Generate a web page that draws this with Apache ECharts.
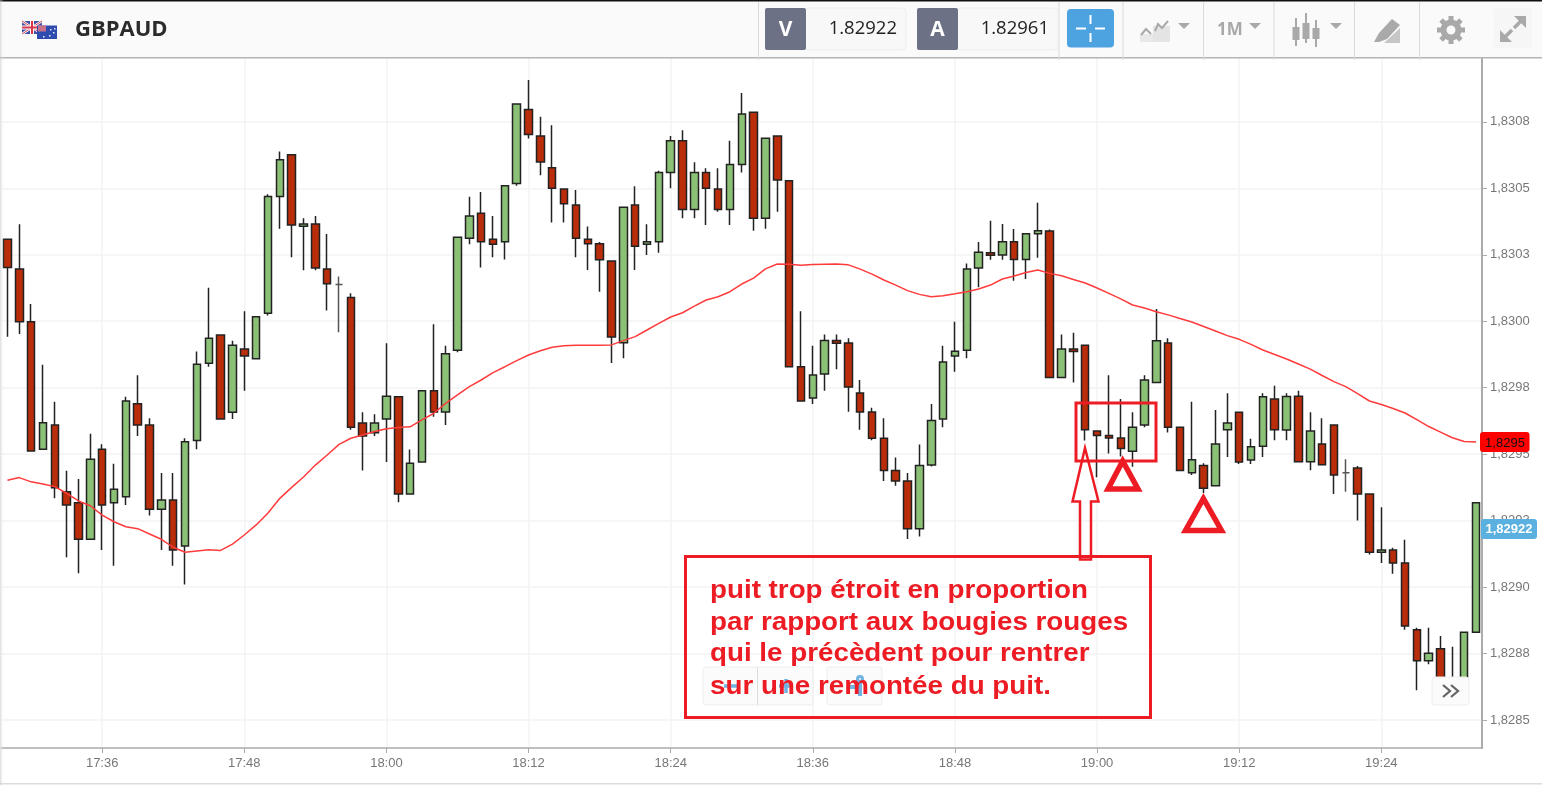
<!DOCTYPE html>
<html><head><meta charset="utf-8">
<style>html,body{margin:0;padding:0;background:#fff}#c{width:1542px;height:785px}</style>
<script src="https://cdn.jsdelivr.net/npm/echarts@6/dist/echarts.min.js"></script>
</head><body><div id="c"></div>
<script>
const opens=[1.830308,1.830196,1.829998,1.829519,1.829610,1.829359,1.829317,1.829180,1.829519,1.829317,
1.829340,1.829690,1.829610,1.829293,1.829328,1.829155,1.829551,1.829842,1.829948,1.829658,
1.829896,1.829859,1.830030,1.830469,1.830626,1.830357,1.830366,1.830196,1.830138,1.830089,
1.829617,1.829581,1.829632,1.829716,1.829350,1.829471,1.829739,1.829659,1.829891,1.830312,
1.830406,1.830308,1.830299,1.830518,1.830796,1.830697,1.830577,1.830497,1.830437,1.830308,
1.830291,1.830227,1.829919,1.830437,1.830290,1.830299,1.830559,1.830679,1.830420,1.830559,
1.830497,1.830420,1.830589,1.830786,1.830387,1.830697,1.830528,1.829829,1.829711,1.829802,
1.829928,1.829918,1.829730,1.829659,1.829560,1.829439,1.829399,1.829220,1.829459,1.829632,
1.829869,1.829891,1.830200,1.830258,1.830249,1.830299,1.830232,1.830329,1.830339,1.829788,
1.829896,1.829910,1.829587,1.829570,1.829561,1.829511,1.829610,1.829770,1.829918,1.829601,
1.829430,1.829457,1.829381,1.829592,1.829658,1.829478,1.829530,1.829708,1.829591,1.829718,
1.829472,1.829538,1.829610,1.829430,1.829448,1.829350,1.829131,1.829140,1.829091,1.828840,
1.828723,1.828768,1.828650,1.828650,1.828830];
const closes=[1.830202,1.829998,1.829512,1.829618,1.829374,1.829309,1.829180,1.829481,1.829309,1.829368,
1.829700,1.829610,1.829293,1.829328,1.829140,1.829547,1.829838,1.829936,1.829632,1.829910,
1.829869,1.830017,1.830469,1.830607,1.830362,1.830366,1.830200,1.830141,1.830138,1.829601,
1.829568,1.829617,1.829718,1.829350,1.829466,1.829739,1.829659,1.829878,1.830316,1.830396,
1.830299,1.830290,1.830510,1.830817,1.830702,1.830599,1.830500,1.830442,1.830312,1.830291,
1.830231,1.829941,1.830429,1.830282,1.830299,1.830559,1.830679,1.830420,1.830559,1.830500,
1.830420,1.830589,1.830779,1.830387,1.830688,1.830531,1.829829,1.829700,1.829798,1.829928,
1.829917,1.829753,1.829659,1.829560,1.829439,1.829399,1.829220,1.829457,1.829627,1.829847,
1.829887,1.830196,1.830259,1.830248,1.830299,1.830232,1.830329,1.830340,1.829788,1.829896,
1.829886,1.829592,1.829570,1.829561,1.829521,1.829601,1.829779,1.829927,1.829601,1.829439,
1.829479,1.829372,1.829538,1.829617,1.829471,1.829528,1.829716,1.829592,1.829717,1.829472,
1.829587,1.829460,1.829422,1.829430,1.829350,1.829131,1.829140,1.829091,1.828854,1.828723,
1.828751,1.828643,1.828628,1.828830,1.829317];
const lows=[1.829942,1.829952,1.829512,1.829519,1.829334,1.829112,1.829052,1.829180,1.829140,1.829080,
1.829309,1.829568,1.829269,1.829140,1.829080,1.829010,1.829519,1.829829,1.829632,1.829632,
1.829739,1.829859,1.830022,1.830348,1.830241,1.830192,1.830192,1.830040,1.829959,1.829592,
1.829439,1.829568,1.829471,1.829319,1.829350,1.829471,1.829641,1.829610,1.829883,1.830290,
1.830202,1.830241,1.830232,1.830510,1.830687,1.830549,1.830371,1.830371,1.830241,1.830193,
1.830111,1.829843,1.829861,1.830193,1.830249,1.830258,1.830500,1.830387,1.830387,1.830362,
1.830412,1.830362,1.830559,1.830340,1.830348,1.830412,1.829829,1.829700,1.829689,1.829739,
1.829819,1.829660,1.829592,1.829552,1.829399,1.829381,1.829181,1.829190,1.829454,1.829601,
1.829810,1.829861,1.830128,1.830231,1.830231,1.830152,1.830159,1.830239,1.829788,1.829788,
1.829770,1.829551,1.829413,1.829503,1.829491,1.829453,1.829601,1.829770,1.829582,1.829439,
1.829422,1.829354,1.829381,1.829489,1.829463,1.829463,1.829489,1.829552,1.829552,1.829472,
1.829440,1.829460,1.829350,1.829359,1.829251,1.829123,1.829091,1.829050,1.828840,1.828612,
1.828710,1.828613,1.828613,1.828643,1.828830];
const highs=[1.830308,1.830365,1.830065,1.829836,1.829697,1.829438,1.829407,1.829577,1.829537,1.829464,
1.829716,1.829797,1.829635,1.829429,1.829429,1.829560,1.829886,1.830126,1.829948,1.829927,
1.830038,1.830017,1.830478,1.830638,1.830626,1.830387,1.830396,1.830328,1.830168,1.830105,
1.829658,1.829650,1.829917,1.829716,1.829518,1.829739,1.829989,1.829908,1.830316,1.830468,
1.830486,1.830396,1.830510,1.830817,1.830907,1.830769,1.830737,1.830497,1.830494,1.830356,
1.830298,1.830227,1.830429,1.830508,1.830365,1.830566,1.830697,1.830718,1.830598,1.830575,
1.830575,1.830679,1.830858,1.830786,1.830688,1.830697,1.830528,1.830038,1.829908,1.829950,
1.829950,1.829936,1.829779,1.829675,1.829635,1.829488,1.829429,1.829536,1.829689,1.829908,
1.829998,1.830217,1.830298,1.830378,1.830366,1.830347,1.830329,1.830446,1.830345,1.829950,
1.829957,1.829910,1.829587,1.829797,1.829708,1.829658,1.829797,1.830046,1.829936,1.829601,
1.829697,1.829466,1.829666,1.829729,1.829658,1.829558,1.829729,1.829757,1.829729,1.829739,
1.829658,1.829635,1.829610,1.829481,1.829456,1.829350,1.829300,1.829148,1.829178,1.828847,
1.828847,1.828816,1.828776,1.828830,1.829317];
const sma=[1.829402,1.829412,1.829396,1.829388,1.829378,1.829353,1.829324,1.829306,1.829271,1.829246,
1.829227,1.829220,1.829200,1.829180,1.829150,1.829131,1.829136,1.829141,1.829138,1.829162,
1.829196,1.829234,1.829279,1.829334,1.829375,1.829414,1.829459,1.829497,1.829537,1.829560,
1.829572,1.829585,1.829596,1.829600,1.829603,1.829629,1.829654,1.829691,1.829723,1.829754,
1.829779,1.829807,1.829829,1.829852,1.829873,1.829889,1.829902,1.829908,1.829910,1.829910,
1.829910,1.829911,1.829927,1.829942,1.829967,1.829992,1.830016,1.830032,1.830057,1.830080,
1.830092,1.830111,1.830140,1.830162,1.830197,1.830215,1.830214,1.830211,1.830213,1.830214,
1.830215,1.830212,1.830196,1.830177,1.830155,1.830136,1.830115,1.830101,1.830092,1.830096,
1.830103,1.830111,1.830121,1.830136,1.830159,1.830170,1.830183,1.830193,1.830180,1.830171,
1.830157,1.830144,1.830125,1.830105,1.830084,1.830061,1.830050,1.830036,1.830024,1.830010,
1.829997,1.829980,1.829963,1.829946,1.829932,1.829913,1.829892,1.829875,1.829858,1.829839,
1.829820,1.829796,1.829773,1.829754,1.829728,1.829700,1.829687,1.829672,1.829655,1.829630,
1.829604,1.829583,1.829562,1.829548,1.829546];
const yTicks=[1.8285,1.82875,1.829,1.82925,1.8295,1.82975,1.83,1.83025,1.8305,1.83075];
const yTickLabels=['1,8285','1,8288','1,8290','1,8293','1,8295','1,8298','1,8300','1,8303','1,8305','1,8308'];
const xTickLabels=['17:36','17:48','18:00','18:12','18:24','18:36','18:48','19:00','19:12','19:24'];
const yMin=1.828395, yMax=1.830990;
const symbolName='GBPAUD', bidPrice='1.82922', askPrice='1.82961';
const smaLast=1.829546, smaLastLabel='1,8295', priceLast=1.82922, priceLastLabel='1,82922';
const noteLines=['puit trop étroit en proportion','par rapport aux bougies rouges','qui le précèdent pour rentrer','sur une remontée du puit.'];

const categories=opens.map((_,i)=>{const m=17*60+28+i;return String(Math.floor(m/60)).padStart(2,'0')+':'+String(m%60).padStart(2,'0');});
const isTick=(i,name)=>xTickLabels.includes(name);
const UP='#8BC176',DOWN='#B92D0A',EDGE='#222222',GRID='#F3F3F3',AXIS='#ABABAB',TXT='#777',NOTE='#ED1C24',ICON='#A9A9A9';

const chart=echarts.init(document.getElementById('c'),null,{renderer:'canvas'});
chart.setOption({
 animation:false,backgroundColor:'#fff',
 grid:{left:1.5,top:58,width:1480.5,height:690,containLabel:false},
 xAxis:{type:'category',data:categories,boundaryGap:true,
  axisLine:{show:true,onZero:false,lineStyle:{color:AXIS,width:1.5}},
  axisTick:{show:true,alignWithLabel:true,interval:isTick,length:5,lineStyle:{color:AXIS}},
  axisLabel:{interval:isTick,color:TXT,fontFamily:'Liberation Sans',fontSize:13,margin:9},
  splitLine:{show:true,alignWithLabel:true,interval:isTick,lineStyle:{color:GRID,width:1.5}}},
 yAxis:{type:'value',position:'right',min:yMin,max:yMax,scale:true,
  axisLine:{show:true,onZero:false,lineStyle:{color:AXIS,width:2}},
  axisTick:{show:true,length:5,customValues:yTicks,lineStyle:{color:AXIS}},
  axisLabel:{customValues:yTicks,color:TXT,fontFamily:'Liberation Sans',fontSize:13,margin:8,padding:[2,0,0,0],
   formatter:v=>{let k=0;yTicks.forEach((t,i)=>{if(Math.abs(t-v)<1e-7)k=i;});return yTickLabels[k];}},
  splitLine:{show:true,lineStyle:{color:GRID,width:1.5}}},
 series:[
  {type:'candlestick',barWidth:8,silent:true,z:2,
   data:opens.map((o,i)=>[o,closes[i],lows[i],highs[i]]),
   itemStyle:{color:UP,color0:DOWN,borderColor:EDGE,borderColor0:EDGE,borderColorDoji:'#555',borderWidth:1.5}},
  {type:'line',data:sma,showSymbol:false,silent:true,z:3,lineStyle:{color:'#FF3B3B',width:1.5}}
 ]
});

const rect=(x,y,w,h,fill,extra={})=>Object.assign({type:'rect',silent:true,z:50,shape:{x,y,width:w,height:h,r:extra.r||0},style:{fill,stroke:extra.stroke||null,lineWidth:extra.lw||0}},extra.z?{z:extra.z}:{});
const line=(x1,y1,x2,y2,color,lw,z=50)=>({type:'line',silent:true,z,shape:{x1,y1,x2,y2},style:{stroke:color,lineWidth:lw}});
const poly=(pts,fill,stroke,lw,z=50)=>({type:'polygon',silent:true,z,shape:{points:pts},style:{fill:fill||null,stroke:stroke||null,lineWidth:lw||0,lineJoin:'miter'}});
const pline=(pts,stroke,lw,z=50)=>({type:'polyline',silent:true,z,shape:{points:pts},style:{fill:null,stroke,lineWidth:lw}});
const text=(x,y,s,font,fill,align='left',z=60,sx=1)=>({type:'text',silent:true,z,x,y,scaleX:sx,style:{text:s,font,fill,align,verticalAlign:'middle'}});

const els=[];
// header band
els.push(rect(0,0,1542,57,'#FAFAFA',{z:40}));
els.push(rect(0,0,1542,1.5,'#111',{z:41}));
els.push(rect(0,57,1542,1.5,'#B4B4B4',{z:41}));
// left shading
els.push({type:'rect',silent:true,z:45,shape:{x:0,y:0,width:4,height:785},style:{fill:new echarts.graphic.LinearGradient(0,0,1,0,[{offset:0,color:'rgba(190,190,190,.55)'},{offset:1,color:'rgba(255,255,255,0)'}])}});
// bottom line
els.push(rect(0,783,1542,1.5,'#DCDCDC',{z:41}));
// flags
els.push(rect(22,21,20,13,'#3F4FA3'));
els.push(line(22,21,42,34,'#fff',2.5,51),line(42,21,22,34,'#fff',2.5,51));
els.push(line(22,21,42,34,'#D8454F',1,51),line(42,21,22,34,'#D8454F',1,51));
els.push(line(32,21,32,34,'#fff',4,51),line(22,27.5,42,27.5,'#fff',4,51));
els.push(line(32,21,32,34,'#D8354A',2,51),line(22,27.5,42,27.5,'#D8354A',2,51));
els.push(rect(37,25.5,20,13.5,'#2E4CB0',{z:52}));
els.push(rect(38,25.5,8,6,'#C8708A',{z:53}));
[[50,29],[53,32],[49,35],[43,36],[54,28]].forEach(p=>els.push(rect(p[0],p[1],1.5,1.5,'#E8ECFA',{z:53})));
els.push(text(75,29.5,symbolName,'700 22px "Open Sans"','#2B2B2B'));
// dividers
[758,1058.5,1122.5,1203,1273.5,1354,1419].forEach(x=>els.push(line(x+.5,2,x+.5,60,'#DADADA',1,42)));
// bid / ask
els.push(rect(805,8,101,42,'#F8F8F8',{r:4,stroke:'#EEE',lw:1}),rect(765,8,41,42,'#6C7186',{r:2}));
els.push(text(785.5,30,'V','700 21px "Open Sans"','#fff','center'));
els.push(text(897,28.5,bidPrice,'400 18.5px "Open Sans"','#222','right'));
els.push(rect(957,8,101,42,'#F8F8F8',{r:4,stroke:'#EEE',lw:1}),rect(917,8,41,42,'#6C7186',{r:2}));
els.push(text(937.5,30,'A','700 21px "Open Sans"','#fff','center'));
els.push(text(1049,28.5,askPrice,'400 18.5px "Open Sans"','#222','right'));
// crosshair button
els.push(rect(1067,9,47,38.5,'#4DA2E0',{r:4}));
els.push(line(1090.5,15,1090.5,24,'#fff',2,51),line(1090.5,33,1090.5,42,'#fff',2,51),line(1076,28.5,1086,28.5,'#fff',2,51),line(1095,28.5,1105,28.5,'#fff',2,51));
// chart type icon
els.push(rect(1153,26,17,16,'#E4E4E4'),rect(1140,34,13,8,'#E8E8E8'));
els.push(pline([[1141,35],[1146,29],[1151,34]],ICON,2),pline([[1155,31],[1158,24],[1162,28],[1168,21]],ICON,2));
els.push(poly([[1178,23],[1190,23],[1184,29]],ICON));
// 1M
els.push(text(1217,30,'1M','700 17px "Open Sans"',ICON));
els.push(poly([[1249,23],[1261,23],[1255,29]],ICON));
// candles icon
[[1296,27,11,15,21,46],[1306,23,11,18,16,43],[1316,28,10,13,23,47]].forEach(a=>{els.push(line(a[0],a[4]-3,a[0],a[5],ICON,2),rect(a[0]-3.5,a[1],7,a[3]-2,ICON));});
els.push(poly([[1330,23],[1342,23],[1336,29]],ICON));
// pencil icon
els.push(poly([[1374,42],[1379,33],[1392,19],[1400,25],[1387,39],[1379,42]],ICON));
els.push(poly([[1384,43],[1400,28],[1400,43]],'#C6C6C6'));
// gear
els.push({type:'ring',silent:true,z:50,shape:{cx:1451,cy:30,r:10.5,r0:4.5},style:{fill:ICON}});
for(let k=0;k<8;k++){const a=k*Math.PI/4;els.push(line(1451+9*Math.cos(a),30+9*Math.sin(a),1451+14*Math.cos(a),30+14*Math.sin(a),ICON,5));}
// expand
els.push(rect(1494,8,38,40,'#F6F6F6',{r:3}));
els.push(line(1504,38,1512,30,ICON,3.5,51),line(1514,28,1522,20,ICON,3.5,51));
els.push(poly([[1500,30],[1500,42],[1512,42]],ICON,null,0,51),poly([[1514,16],[1526,16],[1526,28]],ICON,null,0,51));
// zoom buttons below the note
els.push(rect(703,667,110,38,'#FBFBFB',{r:3,stroke:'#EDEDED',lw:1,z:30}),line(757.5,667,757.5,705,'#DDD',1,31));
els.push(rect(827,667,55,38,'#FBFBFB',{r:3,stroke:'#EDEDED',lw:1,z:30}));
els.push(line(724,686,737,686,'#6FB3E2',3.5,32),line(779,686,793,686,'#6FB3E2',3.5,32),line(786,679,786,693,'#6FB3E2',3.5,32));
els.push({type:'ring',silent:true,z:32,shape:{cx:860,cy:679,r:4,r0:1},style:{fill:'#6FB3E2'}});
els.push(line(849,687,862,687,'#6FB3E2',4,32),line(860,680,860,696,'#6FB3E2',4,32));
// » button
els.push(rect(1432,677,37,28,'#FBFBFB',{r:3,stroke:'#EEE',lw:1,z:40}));
els.push(pline([[1443,685],[1450,691],[1443,697]],'#666',2.3,41),pline([[1451,685],[1458,691],[1451,697]],'#666',2.3,41));
// right value tags, placed through the axis
const ySma=chart.convertToPixel({yAxisIndex:0},smaLast), yPx=chart.convertToPixel({yAxisIndex:0},priceLast);
els.push(rect(1480,Math.round(ySma)-10,49.5,20,'#FF0000',{r:3,z:70}));
els.push(text(1505,ySma+1,smaLastLabel,'400 13px "Liberation Sans"','#111','center',71));
els.push(rect(1481,Math.round(yPx)-10,56,20,'#5AB0DE',{r:3,z:70}));
els.push(text(1509,yPx+1,priceLastLabel,'700 13px "Liberation Sans"','#fff','center',71));
// annotations
els.push(rect(1076,403,80,58,null,{stroke:NOTE,lw:3,z:80}));
els.push(poly([[1085,448],[1072.5,501.5],[1080,501.5],[1080,559.5],[1091,559.5],[1091,501.5],[1098.5,501.5]],null,NOTE,2.5,80));
els.push(poly([[1122.7,461],[1108,489],[1138,489]],null,NOTE,5.5,80));
els.push(poly([[1203.4,498.5],[1185.5,530.5],[1221.5,530.5]],null,NOTE,5.5,80));
els.push(rect(685.5,556.5,465,161,null,{stroke:NOTE,lw:3,z:80}));
noteLines.forEach((s,i)=>els.push(text(710,[590.5,622.5,654,686.5][i],s,'700 26px "Liberation Sans"',NOTE,'left',81,1.068)));
chart.setOption({graphic:{elements:els}});
</script></body></html>
